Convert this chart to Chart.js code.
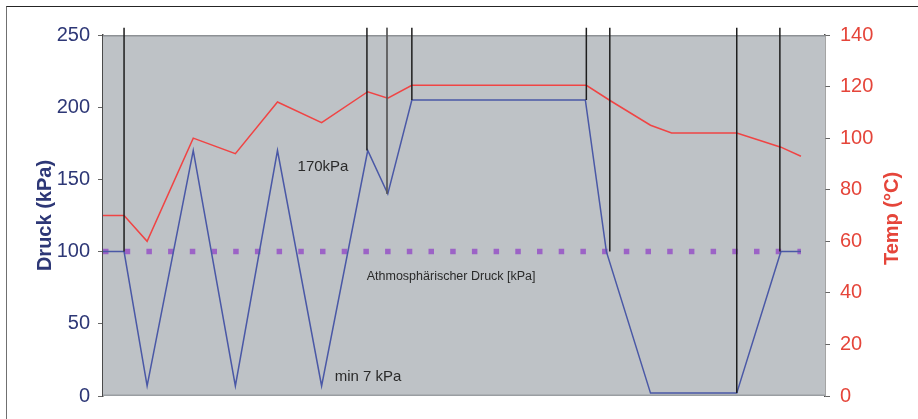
<!DOCTYPE html>
<html>
<head>
<meta charset="utf-8">
<script src="https://cdn.jsdelivr.net/npm/chart.js@4"></script>
<style>
    body { margin: 0; background: #fff; }
    #wrap { position: relative; width: 918px; height: 419px; overflow: hidden; }
    #frame { position: absolute; left: 6px; top: 6px; width: 960px; height: 460px;
             border-left: 1.5px solid #707070; border-top: 1.5px solid #252525; }
    canvas { position: absolute; left: 0; top: 0; }
</style>
</head>
<body>
<div id="wrap">
    <div id="frame"></div>
    <canvas id="chart" width="918" height="419"></canvas>
</div>
<script>
// time axis (arbitrary units, no labels shown)
const pressTime = [0, 10.5, 22, 45, 66, 87, 109, 132, 142, 154, 240.5, 251, 273, 316, 338, 348];
const pressure  = [100, 100, 7, 170, 7, 170, 7, 170, 140, 205, 205, 100, 2, 2, 100, 100];

const tempTime = [0, 10.5, 22, 45, 66, 87, 109, 132, 142, 154, 241, 253, 273, 283.5, 316, 328, 338, 348];
const temperature = [70, 70, 60, 100, 94, 114, 106, 118, 115.5, 120.5, 120.5, 114.5, 105, 102, 102, 99, 96.5, 93];

// phase markers: drop lines from above the top of the chart down to the pressure value
const phaseTime = [10.5, 131.6, 141.6, 154, 241, 252.7, 316, 337.5];
const phaseBottom = [100, 170, 140, 205, 205, 100, 2, 100];
const phaseTop = 255;

const atmosphere = 100;
const atmosphereSpan = [0, 348];

const pressureTicks = [0, 50, 100, 150, 200, 250];
const tempTicks = [0, 20, 40, 60, 80, 100, 120, 140];

const notes = [
    { text: '170kPa', t: 97, v: 159, size: 15 },
    { text: 'min 7 kPa', t: 115.5, v: 13, size: 15 },
    { text: 'Athmosphärischer Druck [kPa]', t: 131.5, v: 83, size: 12.5 }
];

const navy = '#2d3776';
const red = '#e5453a';
const fontFamily = '"Liberation Sans", Arial, sans-serif';

const pts = (xs, ys) => xs.map((x, i) => ({ x: x, y: ys[i] }));

const phaseData = [];
phaseTime.forEach((t, i) => {
    phaseData.push({ x: t, y: phaseTop }, { x: t, y: phaseBottom[i] }, { x: t, y: null });
});

// grey plot background with a soft darker top edge
const plotBg = {
    id: 'plotBg',
    beforeDatasetsDraw(chart) {
        const { ctx, chartArea: a } = chart;
        ctx.save();
        ctx.fillStyle = '#bec2c6';
        ctx.fillRect(a.left, a.top, a.right - a.left, a.bottom - a.top);
        ctx.fillStyle = '#8d9195';
        ctx.fillRect(a.left, a.top, a.right - a.left, 1.5);
        ctx.fillStyle = '#9a9ea2';
        ctx.fillRect(a.left, a.bottom - 1.5, a.right - a.left, 1.5);
        ctx.restore();
    }
};

const noteText = {
    id: 'noteText',
    afterDatasetsDraw(chart) {
        const { ctx, scales, chartArea: a } = chart;
        ctx.save();
        ctx.fillStyle = '#2a2a2a';
        ctx.textBaseline = 'middle';
        ctx.textAlign = 'left';
        notes.forEach(n => {
            ctx.font = n.size + 'px ' + fontFamily;
            ctx.fillText(n.text, scales.x.getPixelForValue(n.t), scales.y.getPixelForValue(n.v));
        });
        // right axis title reads bottom-to-top like the left one
        ctx.translate(scales.y1.right - 26, (a.top + a.bottom) / 2 + 3);
        ctx.rotate(-Math.PI / 2);
        ctx.textAlign = 'center';
        ctx.fillStyle = red;
        ctx.font = 'bold 20px ' + fontFamily;
        ctx.fillText('Temp (°C)', 0, 0);
        ctx.restore();
    }
};

new Chart(document.getElementById('chart'), {
    type: 'line',
    data: {
        datasets: [
            {
                label: 'Athmosphärischer Druck [kPa]',
                data: pts(atmosphereSpan, [atmosphere, atmosphere]),
                yAxisID: 'y',
                borderColor: '#9c63c6',
                borderWidth: 5.5,
                borderDash: [5.5, 16.2],
                borderCapStyle: 'butt',
                pointRadius: 0,
                order: 3
            },
            {
                label: 'Temp',
                data: pts(tempTime, temperature),
                yAxisID: 'y1',
                borderColor: '#f04444',
                borderWidth: 1.5,
                pointRadius: 0,
                order: 2
            },
            {
                label: 'Druck',
                data: pts(pressTime, pressure),
                yAxisID: 'y',
                borderColor: '#4a58a6',
                borderWidth: 1.5,
                pointRadius: 0,
                order: 1
            },
            {
                label: 'Phasen',
                data: phaseData,
                yAxisID: 'y',
                borderColor: '#1e1e1e',
                borderWidth: 1.5,
                pointRadius: 0,
                spanGaps: false,
                clip: false,
                order: 0,
                // the third marker is a thinner, lighter line
                segment: {
                    borderColor: c => c.p0DataIndex === 6 ? '#5a5a5a' : undefined,
                    borderWidth: c => c.p0DataIndex === 6 ? 1 : undefined
                }
            }
        ]
    },
    options: {
        responsive: false,
        animation: false,
        layout: { padding: { top: 35, bottom: 23, left: 0, right: 0 } },
        plugins: { legend: { display: false }, tooltip: { enabled: false } },
        scales: {
            x: { type: 'linear', min: 0, max: 360, display: false },
            y: {
                position: 'left',
                min: 0, max: 250,
                afterFit: s => { s.width = 103; },
                afterBuildTicks: s => { s.ticks = pressureTicks.map(v => ({ value: v })); },
                ticks: { color: navy, padding: 8, font: { family: fontFamily, size: 20 } },
                grid: { drawOnChartArea: false, tickLength: 5, color: '#666' },
                border: { color: '#4a4a4a', width: 1.5 },
                title: {
                    display: true, text: 'Druck (kPa)', color: navy,
                    padding: { top: 33, bottom: 0 },
                    font: { family: fontFamily, size: 20, weight: 'bold' }
                }
            },
            y1: {
                position: 'right',
                min: 0, max: 140,
                afterFit: s => { s.width = 93; },
                afterBuildTicks: s => { s.ticks = tempTicks.map(v => ({ value: v })); },
                ticks: { color: red, padding: 10, font: { family: fontFamily, size: 20 } },
                grid: { drawOnChartArea: false, tickLength: 5, color: '#666' },
                border: { color: '#4a4a4a', width: 1.5 }
            }
        }
    },
    plugins: [plotBg, noteText]
});
</script>
</body>
</html>
